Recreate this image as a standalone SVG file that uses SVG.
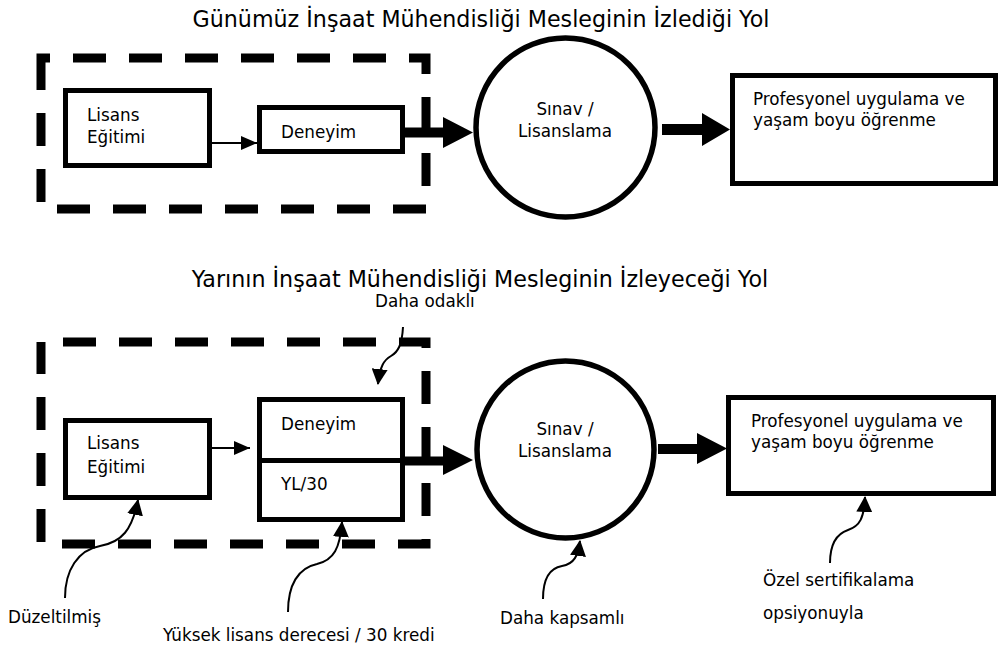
<svg xmlns="http://www.w3.org/2000/svg" width="1002" height="649" viewBox="0 0 1002 649">
<style>
  text { font-family: "DejaVu Sans", "Liberation Sans", sans-serif; fill: #000; }
  .title { font-size: 22.2px; }
  .t { font-size: 16.8px; }
  .mid { text-anchor: middle; }
  .box { fill: #fff; stroke: #000; stroke-width: 5; }
  .circ { fill: #fff; stroke: #000; stroke-width: 5.5; }
  .dash { fill: none; stroke: #000; stroke-width: 9; stroke-dasharray: 33 23; }
  .thin { fill: none; stroke: #000; stroke-width: 1.8; }
  .curve { fill: none; stroke: #000; stroke-width: 2; marker-end: url(#head); }
  .thick { fill: #000; stroke: none; }
</style>
<defs>
  <marker id="head" markerUnits="userSpaceOnUse" viewBox="0 0 16 16" refX="15" refY="8" markerWidth="16" markerHeight="16" orient="auto">
    <path d="M0,0 L16,8 L0,16 z" fill="#000"/>
  </marker>
  <marker id="smallhead" markerUnits="userSpaceOnUse" viewBox="0 0 16 14" refX="16" refY="7" markerWidth="16" markerHeight="14" orient="auto">
    <path d="M0,0 L16,7 L0,14 z" fill="#000"/>
  </marker>
</defs>

<rect width="1002" height="649" fill="#fff"/>

<g id="titles">
  <text class="title mid" x="481" y="27">Günümüz İnşaat Mühendisliği Mesleginin İzlediği Yol</text>
  <text class="title mid" x="480" y="287">Yarının İnşaat Mühendisliği Mesleginin İzleyeceği Yol</text>
</g>

<g id="group-top">
  <rect class="dash" x="41" y="58" width="385" height="151" stroke-dashoffset="24"/>
</g>
<g id="group-bottom">
  <rect class="dash" x="41" y="342" width="385" height="202" stroke-dashoffset="34"/>
</g>

<g id="connectors">
  <!-- top row -->
  <line class="thin" x1="212" y1="143" x2="257" y2="143" marker-end="url(#smallhead)"/>
  <polygon class="thick" points="405,127.5 443,127.5 443,117 473,132.5 443,148 443,137.5 405,137.5"/>
  <polygon class="thick" points="662,124 702,124 702,113 730,129.5 702,146 702,135 662,135"/>
  <!-- bottom row -->
  <line class="thin" x1="212" y1="448" x2="250" y2="448" marker-end="url(#smallhead)"/>
  <polygon class="thick" points="405,456.5 443,456.5 443,445 473,460 443,475 443,465.5 405,465.5"/>
  <polygon class="thick" points="658,444 697,444 697,433 727,448.5 697,464 697,454 658,454"/>
  <!-- annotation curves -->
  <path class="curve" d="M403,327 C402,345 398,352 391,356 C384,360 380,366 378,384"/>
  <path class="curve" d="M65,598 C65,570 78,550 100,546 C122,542 132,530 138,500"/>
  <path class="curve" d="M288,612 C288,585 298,568 317,564 C334,560 340,548 342,522"/>
  <path class="curve" d="M543,599 C543,578 550,568 562,566 C574,564 578,556 580,541"/>
  <path class="curve" d="M830,563 C830,545 836,534 848,530 C860,526 864,518 865,497"/>
</g>

<g id="lisans-top">
  <rect class="box" x="65.5" y="90.5" width="144" height="75"/>
  <text class="t" x="87" y="121">Lisans</text>
  <text class="t" x="87" y="143">Eğitimi</text>
</g>
<g id="deneyim-top">
  <rect class="box" x="259.5" y="107.5" width="143" height="44"/>
  <text class="t" x="281" y="138">Deneyim</text>
</g>
<g id="sinav-top">
  <circle class="circ" cx="565.5" cy="127.5" r="89.5"/>
  <text class="t mid" x="565" y="115">Sınav /</text>
  <text class="t mid" x="565" y="137">Lisanslama</text>
</g>
<g id="profesyonel-top">
  <rect class="box" x="732.5" y="75.5" width="263" height="108"/>
  <text class="t" x="753" y="105">Profesyonel uygulama ve</text>
  <text class="t" x="753" y="126">yaşam boyu öğrenme</text>
</g>

<g id="lisans-bottom">
  <rect class="box" x="65.5" y="420.5" width="144" height="77"/>
  <text class="t" x="87" y="449">Lisans</text>
  <text class="t" x="87" y="473">Eğitimi</text>
</g>
<g id="deneyim-yl-bottom">
  <rect class="box" x="259.5" y="399.5" width="143" height="120"/>
  <line x1="257" y1="460.5" x2="405" y2="460.5" stroke="#000" stroke-width="5"/>
  <text class="t" x="281" y="430">Deneyim</text>
  <text class="t" x="281" y="490">YL/30</text>
</g>
<g id="sinav-bottom">
  <circle class="circ" cx="565.5" cy="449.5" r="88.5"/>
  <text class="t mid" x="565" y="435">Sınav /</text>
  <text class="t mid" x="565" y="457">Lisanslama</text>
</g>
<g id="profesyonel-bottom">
  <rect class="box" x="728.5" y="397.5" width="265" height="96"/>
  <text class="t" x="751" y="427">Profesyonel uygulama ve</text>
  <text class="t" x="751" y="448">yaşam boyu öğrenme</text>
</g>

<g id="annotations">
  <text class="t" x="375" y="307">Daha odaklı</text>
  <text class="t" x="8" y="623">Düzeltilmiş</text>
  <text class="t" x="163" y="641">Yüksek lisans derecesi / 30 kredi</text>
  <text class="t" x="500" y="624">Daha kapsamlı</text>
  <text class="t" x="763" y="586">Özel sertifikalama</text>
  <text class="t" x="763" y="619">opsiyonuyla</text>
</g>
</svg>
